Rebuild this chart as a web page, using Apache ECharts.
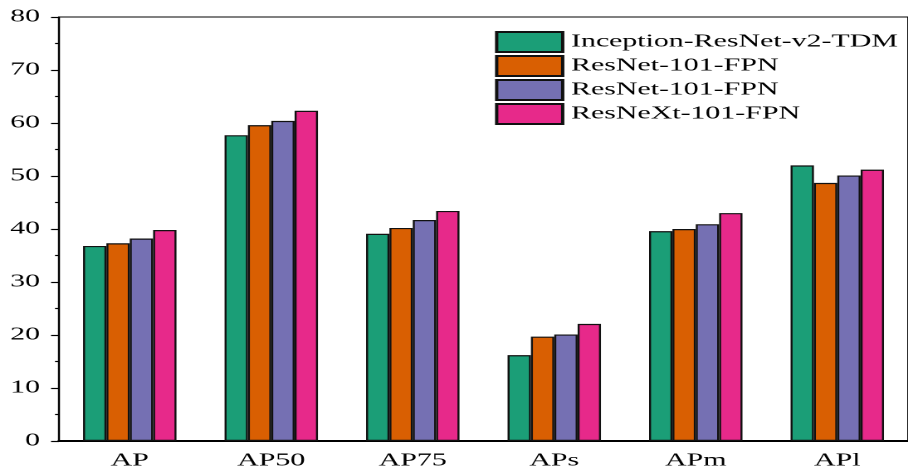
<!DOCTYPE html>
<html><head><meta charset="utf-8">
<script src="https://cdn.jsdelivr.net/npm/echarts@6/dist/echarts.min.js"></script>
<style>
html,body{margin:0;padding:0;background:#fff;overflow:hidden}
#wrap{width:908px;height:472px;overflow:hidden}
#c{width:547px;height:472px;transform:scaleX(1.66);transform-origin:0 0}
</style>
</head><body><div id="wrap"><div id="c"></div></div>
<script>
const categories = ['AP','AP50','AP75','APs','APm','APl'];
const seriesNames = ['Inception-ResNet-v2-TDM','ResNet-101-FPN','ResNet-101-FPN ','ResNeXt-101-FPN'];
const legendLabels = ['Inception-ResNet-v2-TDM','ResNet-101-FPN','ResNet-101-FPN','ResNeXt-101-FPN'];
const inceptionTDM = [36.8, 57.7, 39.1, 16.2, 39.6, 52.0];
const resnet101A   = [37.3, 59.6, 40.2, 19.7, 40.0, 48.7];
const resnet101B   = [38.2, 60.4, 41.7, 20.1, 40.9, 50.1];
const resnext101   = [39.8, 62.3, 43.4, 22.1, 43.0, 51.2];
const yTicks = [0,10,20,30,40,50,60,70,80];
const colors = ['#1b9e77','#d95f02','#7570b3','#e7298a'];
const values = [inceptionTDM, resnet101A, resnet101B, resnext101];
const font = '"Liberation Serif","Times New Roman",serif';
const S = 1.66; // horizontal stretch of the whole figure

const chart = echarts.init(document.getElementById('c'), null, {devicePixelRatio: 2});
chart.setOption({
  animation: false,
  grid: {left: 59 / S, right: 547 - 917 / S, top: 17, bottom: 31, show: true, borderColor: '#000', borderWidth: 1, backgroundColor: 'transparent'},
  legend: {
    show: true, left: 495 / S, top: 31, orient: 'vertical', itemGap: 2, padding: 0,
    itemWidth: 66 / S, itemHeight: 20, icon: 'rect',
    data: seriesNames,
    formatter: n => legendLabels[seriesNames.indexOf(n)],
    textStyle: {fontFamily: font, fontSize: 18, color: '#000'}
  },
  xAxis: [{
    type: 'category', data: categories, position: 'bottom',
    axisLine: {lineStyle: {color: '#000', width: 2}},
    axisTick: {alignWithLabel: true, length: 8, lineStyle: {color: '#000', width: 1}},
    axisLabel: {fontFamily: font, fontSize: 18, color: '#000', margin: 11}
  },{
    type: 'category', data: categories, position: 'bottom',
    axisLine: {show: false},
    axisTick: {length: 4, lineStyle: {color: '#000', width: 1}},
    axisLabel: {show: false}
  }],
  yAxis: {
    type: 'value', min: 0, max: 80, interval: 10,
    axisLine: {show: true, lineStyle: {color: '#000', width: 1.2}},
    axisTick: {show: true, length: 8 / S, lineStyle: {color: '#000', width: 1.2}},
    minorTick: {show: true, splitNumber: 2, length: 4 / S, lineStyle: {color: '#000', width: 1.2}},
    splitLine: {show: false},
    axisLabel: {fontFamily: font, fontSize: 18, color: '#000', margin: 19 / S,
      formatter: v => yTicks.includes(v) ? String(v) : ''}
  },
  series: values.map((d, i) => ({
    name: seriesNames[i], type: 'bar', data: d, xAxisIndex: 0,
    barGap: '0%', barCategoryGap: '34%',
    itemStyle: {color: colors[i], borderColor: '#111', borderWidth: 1.2}
  }))
});
</script></body></html>
